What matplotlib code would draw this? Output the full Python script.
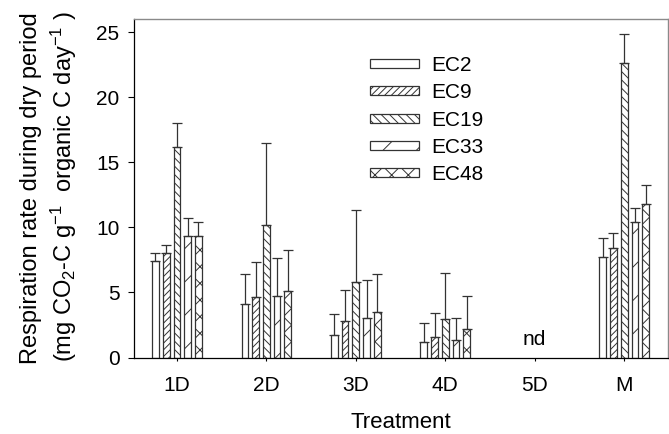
import matplotlib
matplotlib.use("Agg")
import matplotlib.pyplot as plt
import numpy as np
from matplotlib.patches import Patch

plt.rcParams['font.family'] = ['Liberation Sans', 'DejaVu Sans']
plt.rcParams['mathtext.fontset'] = 'custom'
plt.rcParams['mathtext.rm'] = 'Liberation Sans'
plt.rcParams['mathtext.it'] = 'Liberation Sans:italic'
plt.rcParams['hatch.linewidth'] = 0.7

treatments = ["1D", "2D", "3D", "4D", "5D", "M"]
series = ["EC2", "EC9", "EC19", "EC33", "EC48"]
hatches = ["", "/////", "\\\\\\\\", "/", "xx"]

# means (nan = not determined)
EC2 = [7.42, 4.12, 1.73, 1.17, np.nan, 7.70]
EC9 = [8.00, 4.68, 2.78, 1.60, np.nan, 8.40]
EC19 = [16.20, 10.20, 5.83, 2.94, np.nan, 22.60]
EC33 = [9.37, 4.73, 3.04, 1.32, np.nan, 10.40]
EC48 = [9.32, 5.09, 3.48, 2.17, np.nan, 11.80]
# top of error bar
EC2_top = [8.06, 6.45, 3.35, 2.68, np.nan, 9.17]
EC9_top = [8.65, 7.30, 5.17, 3.45, np.nan, 9.55]
EC19_top = [17.98, 16.50, 11.35, 6.48, np.nan, 24.86]
EC33_top = [10.68, 7.68, 5.94, 3.00, np.nan, 11.52]
EC48_top = [10.40, 8.25, 6.40, 4.73, np.nan, 13.27]

means = [EC2, EC9, EC19, EC33, EC48]
tops = [EC2_top, EC9_top, EC19_top, EC33_top, EC48_top]

W, H = 669, 434
fig = plt.figure(figsize=(W/100, H/100), dpi=100)
ax = fig.add_axes([134/W, (H-357.5)/H, (668-134)/W, (357.5-19)/H])

x = np.arange(len(treatments))
step = 0.12
bw = 0.075
edge = '#333333'
for i, (m, t, h) in enumerate(zip(means, tops, hatches)):
    m = np.array(m, float); t = np.array(t, float)
    pos = x + (i - 2) * step
    ax.bar(pos, m, width=bw, facecolor='white', edgecolor=edge,
           linewidth=0.9, hatch=h, zorder=2)
    err = t - m
    ok = ~np.isnan(m)
    ax.errorbar(pos[ok], m[ok], yerr=[np.zeros(ok.sum()), err[ok]],
                fmt='none', ecolor='#333333', elinewidth=0.9,
                capsize=3.6, capthick=0.9, zorder=3)

ax.text(4, 1.35, "nd", ha='center', va='center', fontsize=15)

ax.set_xlim(-0.48, 5.49)
ax.set_ylim(0, 26)
ax.set_xticks(x)
ax.set_xticklabels(treatments)
ax.set_yticks([0, 5, 10, 15, 20, 25])
ax.tick_params(axis='y', direction='out', length=4.5, width=0.8, labelsize=15, pad=6)
ax.tick_params(axis='x', direction='out', length=2.5, width=0.8, labelsize=15, pad=11)

for s in ['left', 'bottom']:
    ax.spines[s].set_color('black')
    ax.spines[s].set_linewidth(0.9)
for s in ['top', 'right']:
    ax.spines[s].set_color('#8a8a8a')
    ax.spines[s].set_linewidth(1.0)

ax.set_xlabel("Treatment", fontsize=16, labelpad=12)

fig.text(31/W, (H-188)/H, "Respiration rate during dry period", rotation=90,
         ha='center', va='center', fontsize=17)
fig.text(63.5/W, (H-187)/H,
         r"(mg CO$_\mathregular{2}$-C g$^\mathregular{-1}$  organic C day$^\mathregular{-1}$ )",
         rotation=90, ha='center', va='center', fontsize=17)

handles = [Patch(facecolor='white', edgecolor=edge, hatch=h, linewidth=0.9) for h in hatches]
leg = ax.legend(handles, series, loc='upper left',
                bbox_to_anchor=((370-134)/(668-134), (357.5-56)/(357.5-19)),
                frameon=False, fontsize=15, handlelength=2.36, handleheight=0.29,
                labelspacing=0.4, handletextpad=0.6, borderaxespad=0, borderpad=0)

fig.savefig("out.png", dpi=100)
